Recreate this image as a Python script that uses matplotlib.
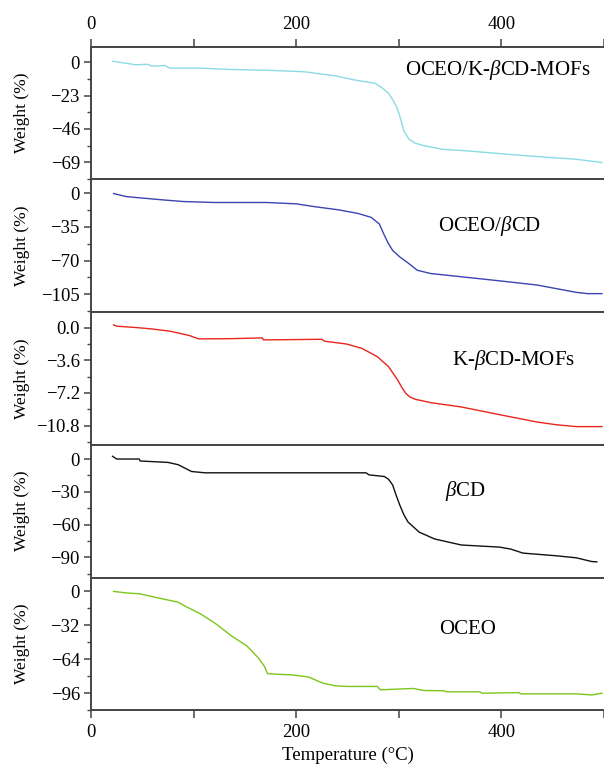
import numpy as np
import matplotlib
matplotlib.use('Agg')
import matplotlib.pyplot as plt
from matplotlib.ticker import AutoMinorLocator, MultipleLocator

plt.rcParams['font.family'] = ['Liberation Serif', 'DejaVu Serif']
plt.rcParams['mathtext.fontset'] = 'custom'
plt.rcParams['mathtext.it'] = 'Liberation Serif:italic'
plt.rcParams['mathtext.rm'] = 'Liberation Serif'

# OCEO/K-bCD-MOFs
t1 = [21, 44, 55, 59, 72, 77, 107, 137, 178, 208, 223, 238, 256, 277, 284, 290, 294,
      298, 301, 305, 310, 316, 323, 342, 368, 398, 435, 473, 498]
w1 = [0.7, -1.8, -1.4, -2.7, -2.3, -4.1, -4.1, -5.0, -5.7, -6.6, -8.0, -9.4, -12.1,
      -14.6, -17.8, -21.5, -25.8, -31.0, -37.2, -47.5, -53.2, -55.8, -57.3, -60.0,
      -61.2, -63.0, -65.1, -66.9, -69.2]
# OCEO/bCD
t2 = [22, 34, 51, 70, 90, 120, 171, 200, 219, 241, 260, 273, 281, 286, 290, 294,
      301, 309, 318, 331, 361, 398, 435, 473, 484, 498]
w2 = [-0.3, -3.4, -5.1, -6.9, -8.6, -9.6, -9.6, -11.0, -14.1, -17.2, -20.9, -25.0,
      -31.9, -43.9, -52.5, -59.4, -66.2, -72.4, -80.0, -83.4, -86.8, -91.0, -95.4,
      -103.0, -104.3, -104.3]
# K-bCD-MOFs
t3 = [22, 25, 44, 59, 77, 96, 105, 137, 167, 168, 225, 228, 249, 264, 279, 290,
      299, 303, 307, 311, 316, 331, 361, 398, 435, 454, 473, 498]
w3 = [0.29, 0.15, 0.0, -0.15, -0.4, -0.88, -1.25, -1.22, -1.14, -1.36, -1.29, -1.51,
      -1.81, -2.29, -3.2, -4.3, -5.79, -6.6, -7.26, -7.65, -7.89, -8.26, -8.74,
      -9.58, -10.4, -10.7, -10.9, -10.9]
# bCD
t4 = [21, 25, 47, 48, 75, 85, 98, 111, 268, 271, 286, 290, 294, 297, 301, 305, 309,
      320, 335, 361, 398, 409, 421, 454, 473, 488, 493]
w4 = [2.5, 0.0, 0.0, -1.8, -3.1, -5.2, -11.4, -12.6, -12.6, -14.5, -16.0, -18.5,
      -23.7, -32.0, -42.2, -51.0, -57.6, -66.9, -73.1, -78.6, -80.5, -82.3, -86.0,
      -88.5, -90.3, -93.7, -94.0]
# OCEO
t5 = [22, 36, 47, 62, 85, 92, 107, 122, 137, 152, 163, 169, 172, 197, 212, 226,
      238, 249, 279, 282, 314, 324, 344, 346, 379, 381, 417, 419, 473, 488, 498]
w5 = [0.0, -1.6, -2.2, -5.4, -10.2, -14.0, -21.3, -30.8, -42.0, -51.5, -62.6, -70.6,
      -77.6, -78.8, -80.7, -86.5, -89.0, -89.6, -89.6, -92.8, -91.5, -93.4, -93.7,
      -94.7, -94.7, -96.0, -95.4, -96.6, -96.6, -97.6, -96.0]

names = ['OCEO/K-$\\mathit{\\beta}$CD-MOFs', 'OCEO/$\\mathit{\\beta}$CD',
         'K-$\\mathit{\\beta}$CD-MOFs', '$\\mathit{\\beta}$CD', 'OCEO']
colors = ['#8adbe6', '#3b44b0', '#e8261d', '#111111', '#7cc61c']
yticks = [23, 35, 3.6, 30, 32]
ylims = [(-80.8, 10.7), (-123.5, 14.4), (-12.9, 1.7), (-108.3, 13.0), (-112.0, 13.1)]
label_pos = [(498, 70), (490, 226), (513, 360), (465, 491), (468, 630)]

W, H = 604, 771
fig = plt.figure(figsize=(W / 100, H / 100), dpi=100)

top = 46.7
ph = 132.7
left = 91 / W
series = [(t1, w1), (t2, w2), (t3, w3), (t4, w4), (t5, w5)]
spine_c = '#444444'

for i, (t, w) in enumerate(series):
    y0 = top + i * ph
    ax = fig.add_axes([left, 1 - (y0 + ph) / H, 1 - left, ph / H])
    ax.plot(t, w, color=colors[i], lw=1.0)
    ax.set_xlim(0, 500)
    ax.set_ylim(*ylims[i])
    step = yticks[i]
    ax.yaxis.set_major_locator(MultipleLocator(step))
    ax.yaxis.set_minor_locator(AutoMinorLocator(2))
    if step < 10:
        ax.yaxis.set_major_formatter(matplotlib.ticker.FuncFormatter(
            lambda v, p: ('%.1f' % v).replace('-', '\u2212')))
    ax.spines['right'].set_visible(False)
    for s in ['left', 'top', 'bottom']:
        ax.spines[s].set_color(spine_c)
        ax.spines[s].set_linewidth(1.4)
    ax.tick_params(axis='y', which='major', direction='out', length=5, width=1.1,
                   color=spine_c, labelsize=13.5, pad=3)
    ax.tick_params(axis='y', which='minor', direction='out', length=3, width=1.0,
                   color=spine_c)
    ax.xaxis.set_major_locator(MultipleLocator(200))
    ax.xaxis.set_minor_locator(MultipleLocator(100))
    if i == 0:
        ax.xaxis.set_ticks_position('top')
        ax.xaxis.set_label_position('top')
        ax.tick_params(axis='x', which='both', top=True, bottom=False,
                       labeltop=True, labelbottom=False)
    elif i == len(series) - 1:
        ax.tick_params(axis='x', which='both', top=False, bottom=True,
                       labeltop=False, labelbottom=True)
        ax.set_xlabel('Temperature (\u00b0C)', fontsize=13.5, labelpad=4)
    else:
        ax.tick_params(axis='x', which='both', top=False, bottom=False,
                       labeltop=False, labelbottom=False)
    ax.tick_params(axis='x', which='both', direction='out', length=6, width=1.1,
                   color=spine_c, labelsize=13.5, pad=4)
    ax.set_ylabel('Weight (%)', fontsize=12.5)
    ax.yaxis.set_label_coords(-0.118, 0.5)
    lx, ly = label_pos[i]
    fig.text(lx / W, 1 - ly / H, names[i], fontsize=15, ha='center', va='center')

fig.savefig('out.png', dpi=100)
